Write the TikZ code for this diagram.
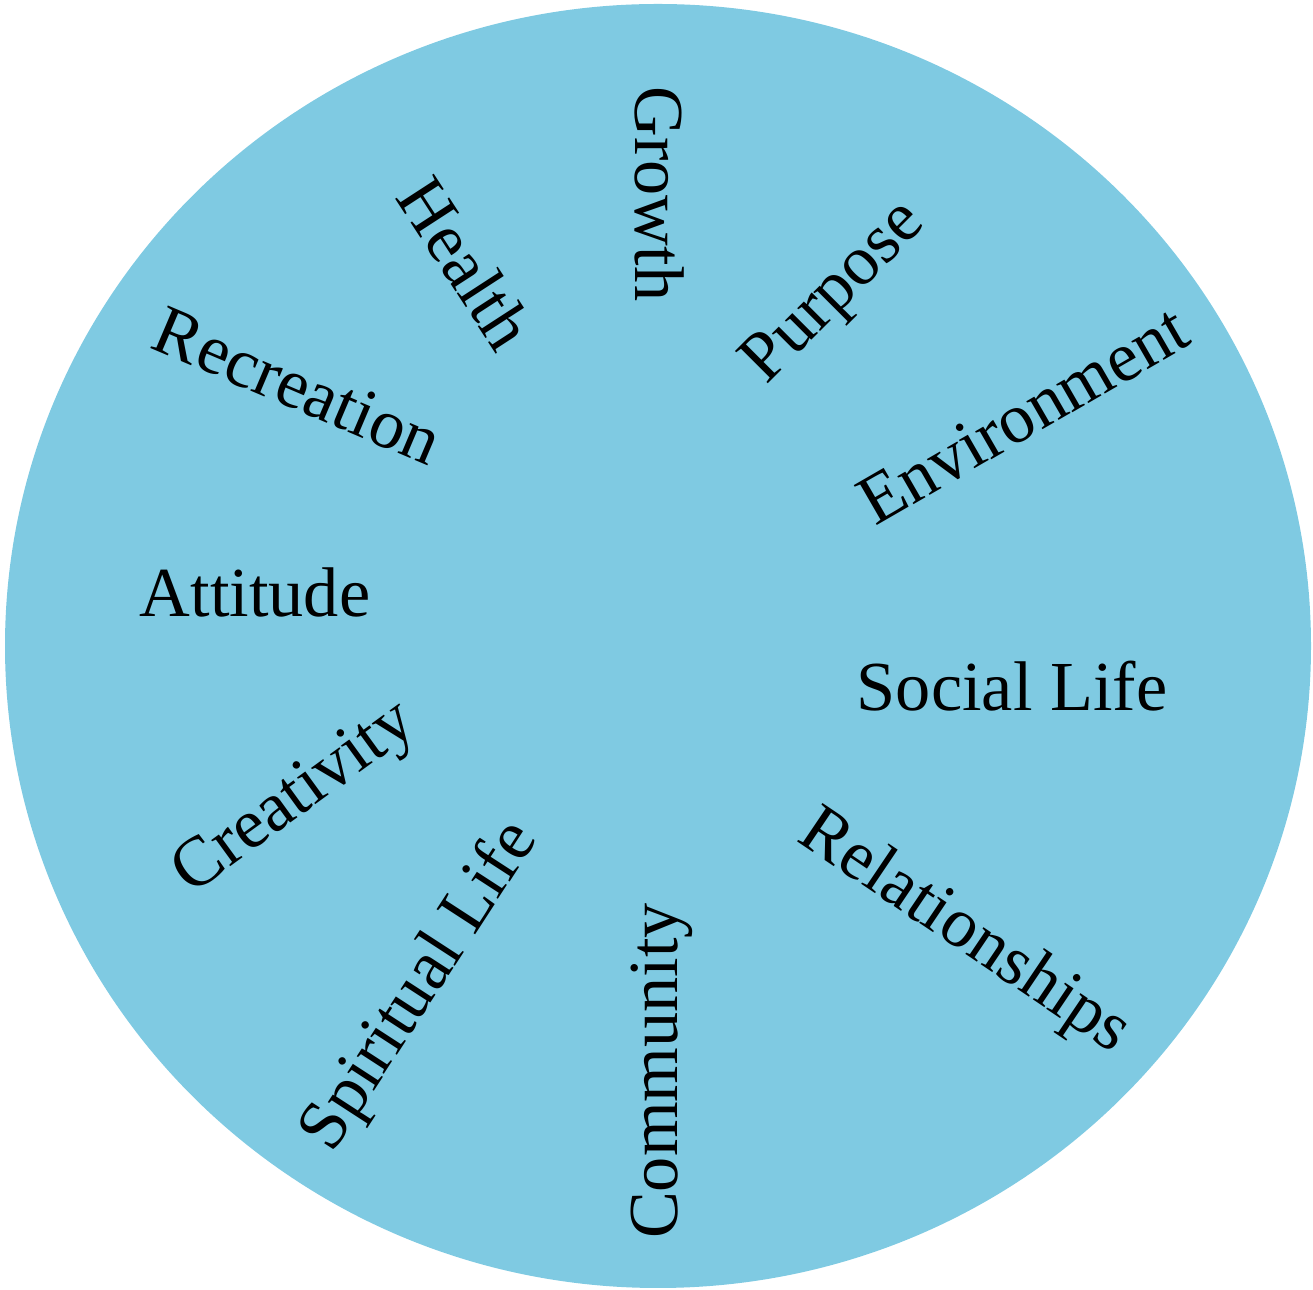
\documentclass[tikz,border=0pt]{standalone}
\usepackage{fontspec}
\setmainfont{Liberation Serif}
\usepackage{tikz}
\usetikzlibrary{positioning}
\definecolor{wheelblue}{RGB}{127,202,226}
\tikzset{area/.style={font=\fontsize{20}{24}\selectfont, inner sep=0pt, anchor=center}}

\begin{document}
\begin{tikzpicture}
\useasboundingbox (0,0) rectangle (13.13,12.90);
\fill[wheelblue] (6.58,6.44) ellipse [x radius=6.53, y radius=6.42];
\foreach \x/\y/\r/\n/\t in {6.60/10.96/-90/growth/Growth, 8.36/9.96/45/purpose/Purpose,
    10.23/8.75/30/environment/Environment, 10.12/6.04/0/social/Social Life,
    9.64/3.57/-34/relations/Relationships, 6.62/2.19/90/community/Community,
    4.21/3.03/57/spiritual/Spiritual Life, 2.96/4.90/36/creativity/Creativity,
    2.55/6.98/0/attitude/Attitude, 2.98/9.04/-23/recreation/Recreation,
    4.66/10.27/-57/health/Health}
  \node[area, rotate=\r] (\n) at (\x,\y) {\t};
\end{tikzpicture}
\end{document}
